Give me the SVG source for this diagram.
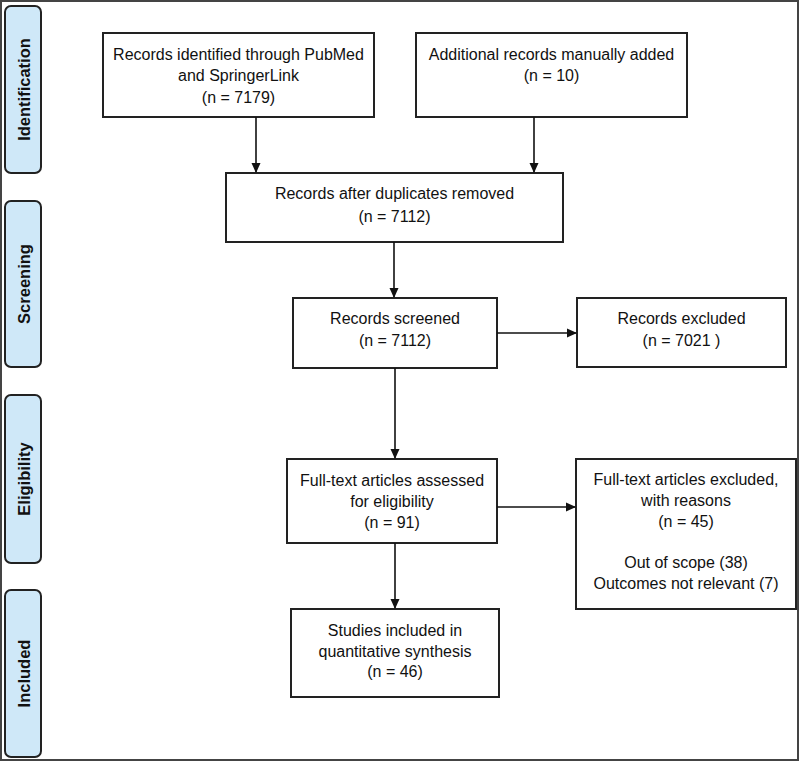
<svg xmlns="http://www.w3.org/2000/svg" width="800" height="761" viewBox="0 0 800 761">
<style>
.frame{fill:#fff;stroke:#444;stroke-width:2}
.box{fill:#fff;stroke:#222;stroke-width:2}
.phase{fill:#cfe8f8;stroke:#222;stroke-width:2}
.t{font-family:"Liberation Sans",Arial,sans-serif;font-size:16px;fill:#111;text-anchor:middle}
.p{font-family:"Liberation Sans",Arial,sans-serif;font-size:16.5px;font-weight:bold;fill:#111;text-anchor:middle}
.c{fill:none;stroke:#111;stroke-width:1.6}
</style>
<defs>
<marker id="ah" markerWidth="10" markerHeight="10" refX="9" refY="5" orient="auto" markerUnits="userSpaceOnUse">
<path d="M0,0.5 L10,5 L0,9.5 Z" fill="#111"/>
</marker>
</defs>
<rect class="frame" x="1" y="1" width="797" height="759"/>
<g id="phase-identification">
<rect class="phase" x="5" y="6" width="36" height="167" rx="6"/>
<text class="p" transform="translate(29.5,89.5) rotate(-90)">Identification</text>
</g>
<g id="phase-screening">
<rect class="phase" x="5" y="201" width="36" height="166" rx="6"/>
<text class="p" transform="translate(29.5,284) rotate(-90)">Screening</text>
</g>
<g id="phase-eligibility">
<rect class="phase" x="5" y="395" width="36" height="168" rx="6"/>
<text class="p" transform="translate(29.5,479) rotate(-90)">Eligibility</text>
</g>
<g id="phase-included">
<rect class="phase" x="5" y="590" width="36" height="167" rx="6"/>
<text class="p" transform="translate(29.5,673.5) rotate(-90)">Included</text>
</g>
<g id="n-identified">
<rect class="box" x="103" y="33" width="271" height="84"/>
<text class="t" x="238.5" y="60">Records identified through PubMed</text>
<text class="t" x="238.5" y="81">and SpringerLink</text>
<text class="t" x="238.5" y="103">(n = 7179)</text>
</g>
<g id="n-additional">
<rect class="box" x="416" y="33" width="271" height="84"/>
<text class="t" x="551.5" y="60">Additional records manually added</text>
<text class="t" x="551.5" y="81">(n = 10)</text>
</g>
<g id="n-dedup">
<rect class="box" x="226" y="173" width="337" height="69"/>
<text class="t" x="394.5" y="199">Records after duplicates removed</text>
<text class="t" x="394.5" y="222">(n = 7112)</text>
</g>
<g id="n-screened">
<rect class="box" x="293" y="298" width="204" height="70"/>
<text class="t" x="395" y="324">Records screened</text>
<text class="t" x="395" y="346">(n = 7112)</text>
</g>
<g id="n-excluded">
<rect class="box" x="577" y="298" width="209" height="69"/>
<text class="t" x="681.5" y="324">Records excluded</text>
<text class="t" x="681.5" y="346">(n = 7021 )</text>
</g>
<g id="n-fulltext">
<rect class="box" x="287" y="459" width="210" height="84"/>
<text class="t" x="392" y="486">Full-text articles assessed</text>
<text class="t" x="392" y="507">for eligibility</text>
<text class="t" x="392" y="528">(n = 91)</text>
</g>
<g id="n-ft-excluded">
<rect class="box" x="576" y="459" width="220" height="150"/>
<text class="t" x="686" y="485">Full-text articles excluded,</text>
<text class="t" x="686" y="506">with reasons</text>
<text class="t" x="686" y="527">(n = 45)</text>
<text class="t" x="686" y="568">Out of scope (38)</text>
<text class="t" x="686" y="589">Outcomes not relevant (7)</text>
</g>
<g id="n-included">
<rect class="box" x="291" y="609" width="208" height="88"/>
<text class="t" x="395" y="636">Studies included in</text>
<text class="t" x="395" y="657">quantitative synthesis</text>
<text class="t" x="395" y="677">(n = 46)</text>
</g>
<g id="connectors">
<line class="c" x1="256" y1="117" x2="256" y2="172" marker-end="url(#ah)"/>
<line class="c" x1="534" y1="117" x2="534" y2="172" marker-end="url(#ah)"/>
<line class="c" x1="394" y1="242" x2="394" y2="297" marker-end="url(#ah)"/>
<line class="c" x1="497" y1="333" x2="576" y2="333" marker-end="url(#ah)"/>
<line class="c" x1="395" y1="368" x2="395" y2="458" marker-end="url(#ah)"/>
<line class="c" x1="497" y1="507" x2="575" y2="507" marker-end="url(#ah)"/>
<line class="c" x1="395" y1="543" x2="395" y2="608" marker-end="url(#ah)"/>
</g>
</svg>
